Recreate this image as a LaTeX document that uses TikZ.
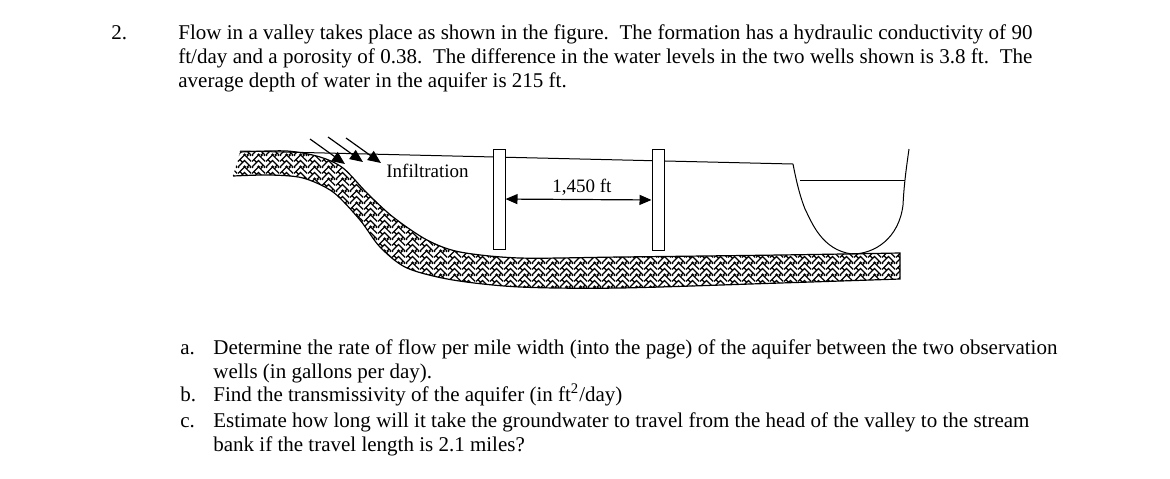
\documentclass[tikz,border=0pt]{standalone}
\usepackage{fontspec}
\setmainfont{Liberation Serif}
\usetikzlibrary{arrows.meta,patterns}
% herringbone fill of the aquifer
\pgfdeclarepatternformonly{aquiferweave}{\pgfqpoint{0pt}{0pt}}{\pgfqpoint{7pt}{6pt}}{\pgfqpoint{7pt}{6pt}}{
  \pgfsetlinewidth{0.65pt}
  \foreach \rowy in {-3,0,3,6} {
    \pgfpathmoveto{\pgfpoint{0pt}{\rowy pt}}
    \pgfpathlineto{\pgfpoint{3.5pt}{\rowy pt+3.5pt}}
    \pgfpathlineto{\pgfpoint{7pt}{\rowy pt}}
  }
  \pgfpathmoveto{\pgfqpoint{2.5pt}{2.5pt}}
  \pgfpathlineto{\pgfqpoint{1pt}{4pt}}
  \pgfpathmoveto{\pgfqpoint{4.5pt}{5.5pt}}
  \pgfpathlineto{\pgfqpoint{6pt}{7pt}}
  \pgfpathmoveto{\pgfqpoint{4.5pt}{-0.5pt}}
  \pgfpathlineto{\pgfqpoint{6pt}{1pt}}
  \pgfusepath{stroke}
}
\begin{document}
\begin{tikzpicture}
[x=0.5pt,y=-0.5pt,font=\fontsize{10.5}{12}\selectfont,
  wordsdecorate/.style={anchor=base west,inner sep=0pt},%
  figlabel/.style={wordsdecorate,font=\fontsize{9.5}{11}\selectfont},%
  welldecorate/.style={shape=rectangle,draw,fill=white,inner sep=0pt,line width=0.5pt,minimum width=6pt},%
  linedecorate/.style={-,line width=0.5pt},%
  raindecorate/.style={-{Stealth[length=6.5pt,width=5.5pt,inset=0pt]},line width=0.6pt},%
  spandecorate/.style={{Stealth[length=6pt,width=5pt,inset=0pt]}-{Stealth[length=6pt,width=5pt,inset=0pt]},line width=0.6pt}]
\useasboundingbox (0,0) rectangle (1170,478);
%% aquifer
\draw[line width=0.6pt,pattern=aquiferweave]
  plot[smooth,tension=0.5] coordinates {(240,152) (287,151) (320,157) (343,168) (367,193)
    (393,217) (427,240) (460,252) (520,258) (620,257) (780,255) (900,253)}
  -- (900,279)
  -- plot[smooth,tension=0.5] coordinates {(900,279) (780,283) (620,288) (520,287) (453,280)
    (407,268) (380,247) (360,220) (333,192) (303,178) (270,175) (233,176)};
%% water table, stream and named points
\foreach \nodename/\x/\y in {tableleft/240/151, tableright/793/164, bankright/909/149,
  levelleft/800/180, levelright/905/180, rainoa/310/139, rainob/328/137, rainoc/346/138,
  rainta/345/164, raintb/363/162, raintc/381/163} {
  \coordinate (\nodename) at (\x,\y);
}
\draw[linedecorate] (tableleft) -- (tableright);
\draw[linedecorate] (tableright) .. controls (797,185) and (801,199) .. (805,209)
  .. controls (812,223) and (822,250) .. (852,254)
  .. controls (875,254) and (899,238) .. (903,205)
  .. controls (904,185) and (906,170) .. (bankright);
\draw[linedecorate] (levelleft) -- (levelright);
%% wells
\node (wellone) at (499,199) [welldecorate,minimum height=50pt] {};
\node (welltwo) at (658,200) [welldecorate,minimum height=50.5pt] {};
\draw[spandecorate] (wellone) -- (welltwo);
%% infiltration arrows
\foreach \startnode/\endnode in {rainoa/rainta, rainob/raintb, rainoc/raintc} {
  \draw[raindecorate] (\startnode) -- (\endnode);
}
%% labels
\node (infiltlabel) at (386,177) [figlabel] {Infiltration};
\node (spanlabel) at (552,192) [figlabel] {1,450 ft};
%% question
\node (qnum) at (111,39) [wordsdecorate] {2.};
\node (qtext) at (178,39) [wordsdecorate,text width=427pt,align=justify] {Flow in a valley takes place as shown in the figure.\ \ The formation has a hydraulic conductivity of 90\linebreak ft/day and a porosity of 0.38.\ \ The difference in the water levels in the two wells shown is 3.8 ft.\ \ The\linebreak average depth of water in the aquifer is 215 ft.};
\node (anum) at (180,354) [wordsdecorate] {a.};
\node (atext) at (213,354) [wordsdecorate,text width=422pt,align=justify] {Determine the rate of flow per mile width (into the page) of the aquifer between the two observation\linebreak wells (in gallons per day).};
\node (bnum) at (180,401) [wordsdecorate] {b.};
\node (btext) at (213,401) [wordsdecorate] {Find the transmissivity of the aquifer (in ft\textsuperscript{2}/day)};
\node (cnum) at (180,427) [wordsdecorate] {c.};
\node (ctext) at (213,427) [wordsdecorate,text width=408pt,align=justify] {Estimate how long will it take the groundwater to travel from the head of the valley to the stream\linebreak bank if the travel length is 2.1 miles?};
\end{tikzpicture}
\end{document}
